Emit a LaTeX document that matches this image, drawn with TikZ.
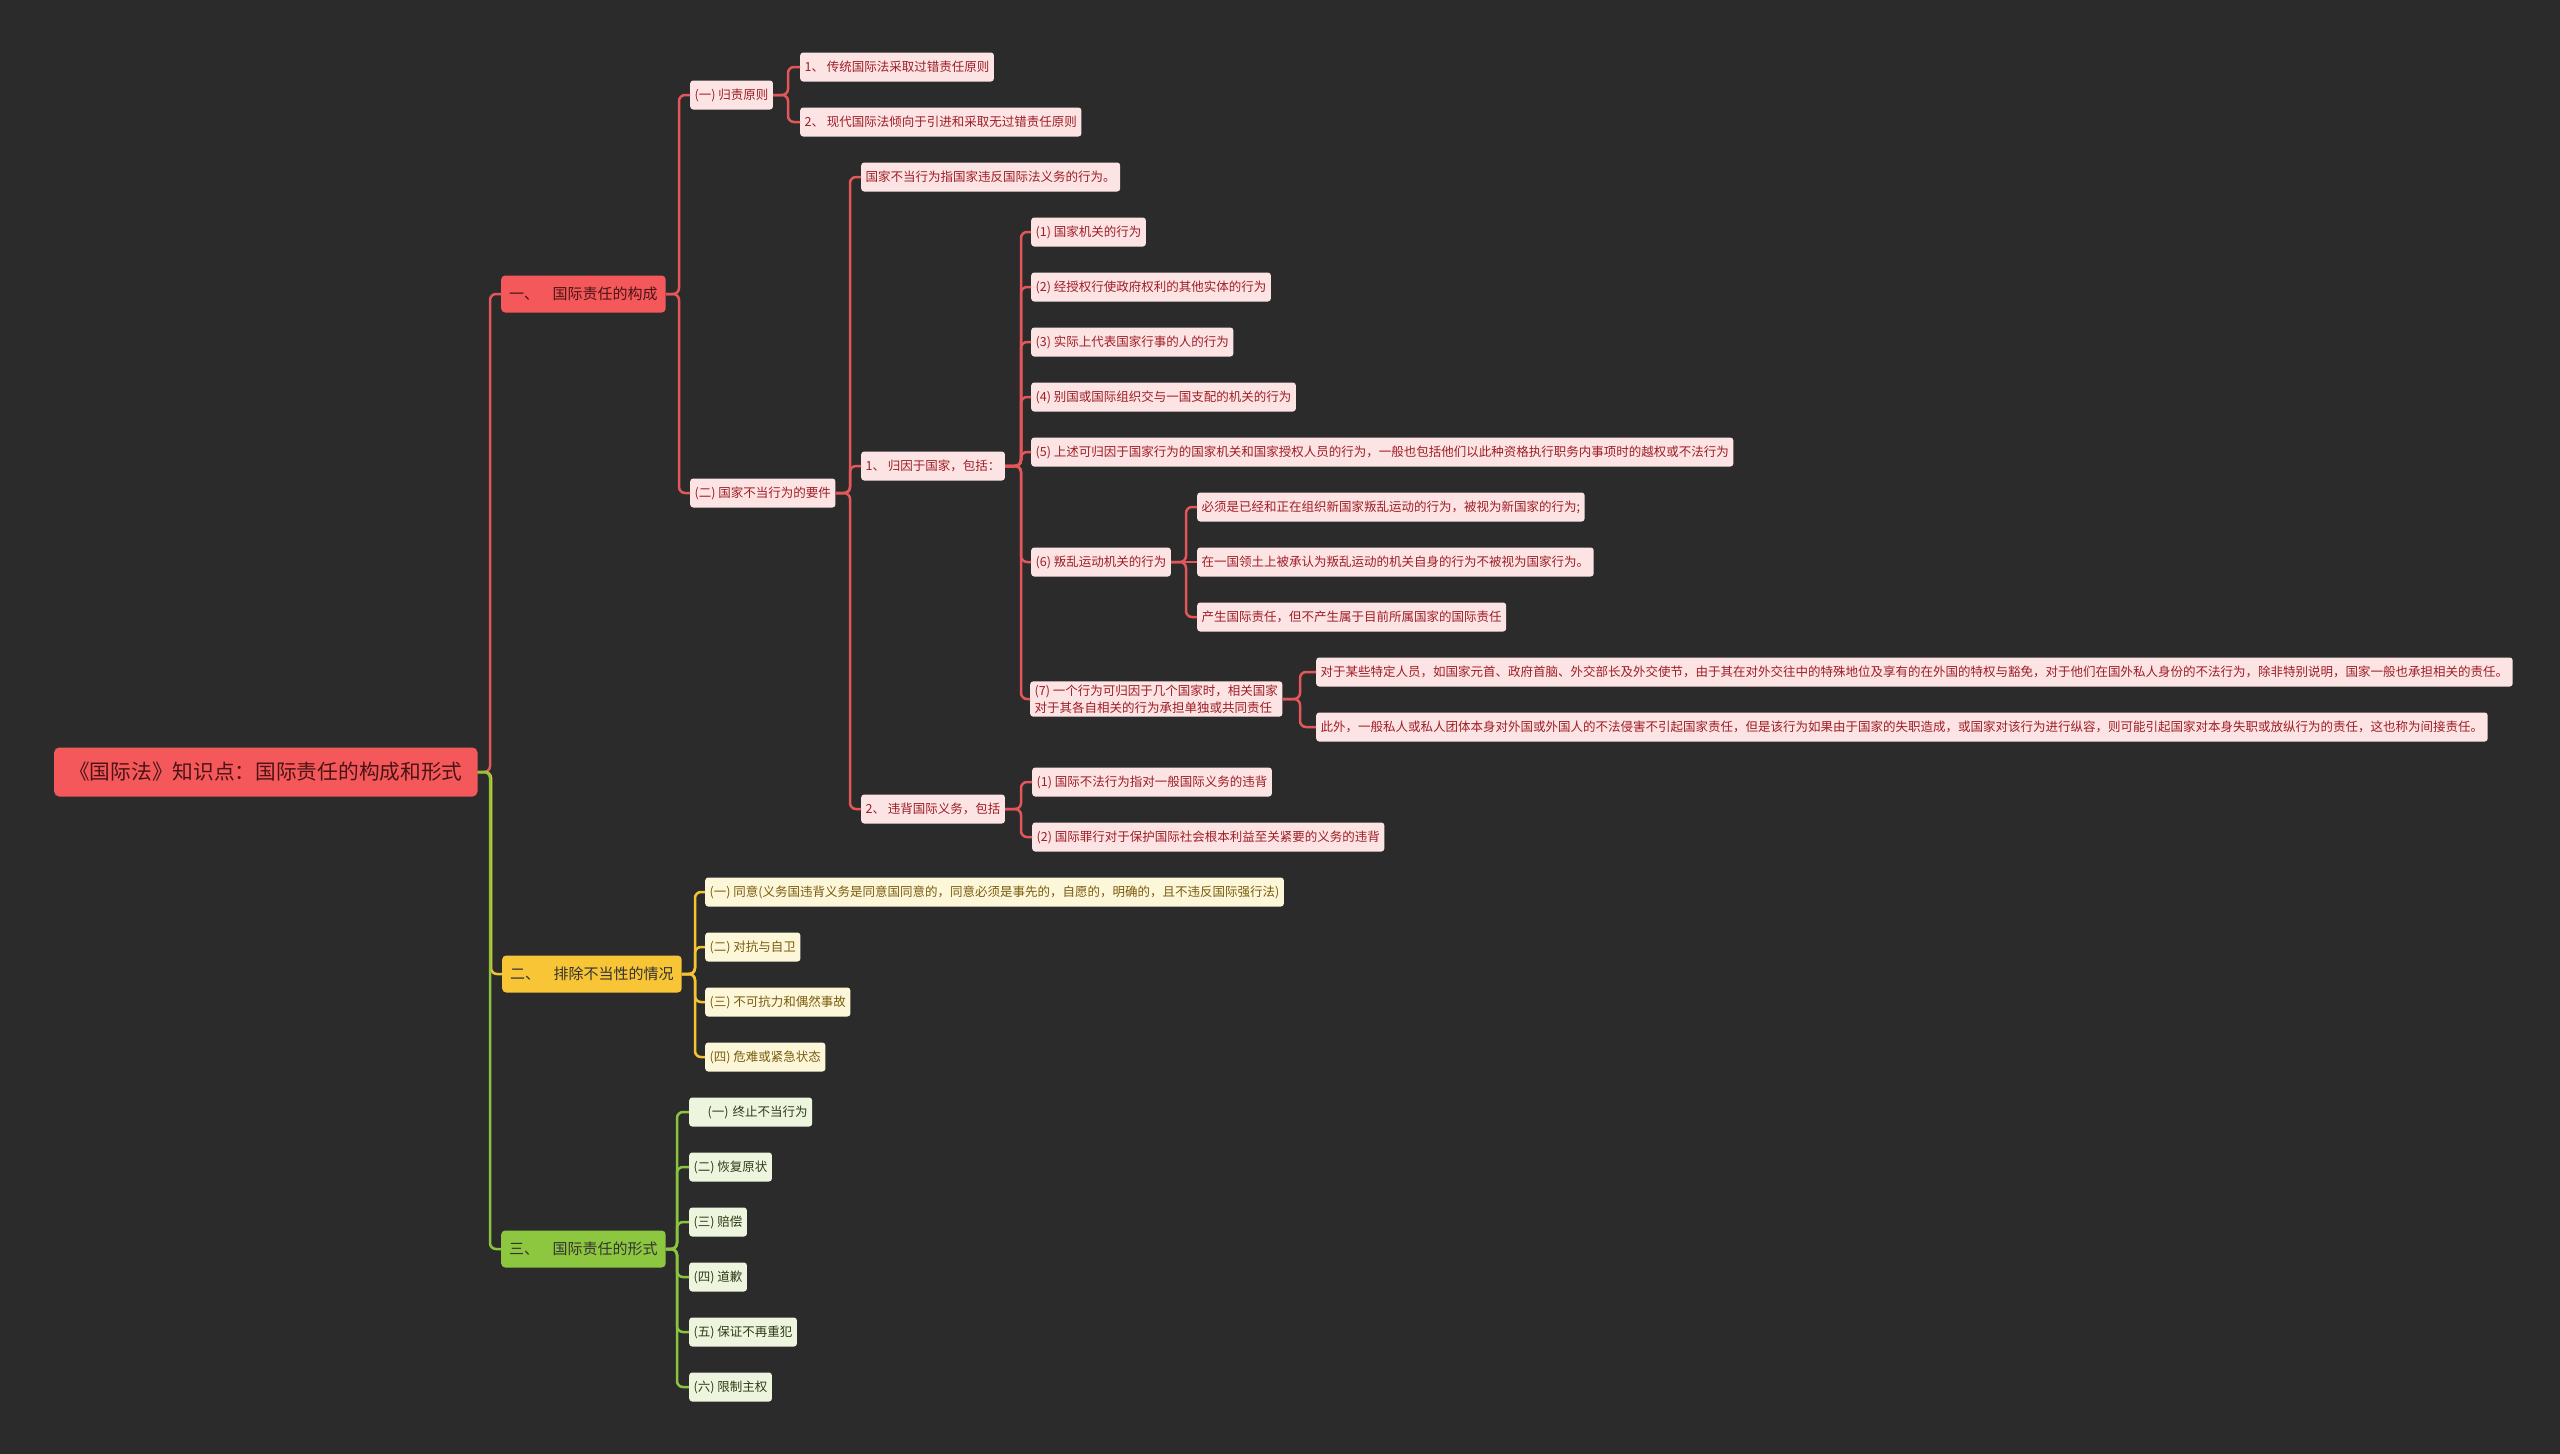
\documentclass[tikz,border=0pt]{standalone}
\usepackage{fontspec}
\setmainfont{Noto Sans CJK SC}
\usetikzlibrary{positioning,calc}
\definecolor{bgcol}{HTML}{2B2B2B}
\definecolor{rootred}{HTML}{F5585B}
\definecolor{mainyel}{HTML}{F8C536}
\definecolor{maingrn}{HTML}{8DC63F}
\definecolor{redline}{HTML}{E3575A}
\definecolor{yelline}{HTML}{F5C232}
\definecolor{grnline}{HTML}{8BC53F}
\definecolor{redfill}{HTML}{FDE4E4}
\definecolor{redtext}{HTML}{9E1D25}
\definecolor{yelfill}{HTML}{FDF7DA}
\definecolor{yeltext}{HTML}{7A5B0C}
\definecolor{grnfill}{HTML}{EEF5DE}
\definecolor{grntext}{HTML}{2E3B17}
\definecolor{darktext}{HTML}{4A1414}

\begin{document}
\begin{tikzpicture}[
    x=1pt, y=-1pt,
    rootbox/.style={rectangle, fill=rootred, text=darktext, anchor=west, minimum height=49pt,
                    inner xsep=15pt, rounded corners=5pt, font=\fontsize{20.7pt}{24pt}\selectfont},
    mainbox/.style={rectangle, anchor=west, minimum height=37pt, inner xsep=8pt,
                    rounded corners=4pt, font=\fontsize{15pt}{18pt}\selectfont},
    leaf/.style={rectangle, anchor=west, minimum height=29pt, inner xsep=4.5pt, align=left,
                 rounded corners=3pt, font=\fontsize{12.5pt}{17pt}\selectfont},
    redleaf/.style={leaf, fill=redfill, text=redtext},
    yelleaf/.style={leaf, fill=yelfill, text=yeltext},
    grnleaf/.style={leaf, fill=grnfill, text=grntext},
    link/.style={line width=2.5pt, rounded corners=6pt},
    redlink/.style={link, draw=redline},
    yellink/.style={link, draw=yelline},
    grnlink/.style={link, draw=grnline}
]
\useasboundingbox (0,0) rectangle (2560,1454);
\fill[bgcol] (0,0) rectangle (2560,1454);

% root and main branches
\node[rootbox] (root) at (54,772) {《国际法》知识点：国际责任的构成和形式};
\node[mainbox, fill=rootred, text=darktext] (one) at (501,294) {一、\hspace{0.9em}国际责任的构成};
\node[mainbox, fill=mainyel, text=black!80] (two) at (502,974) {二、\hspace{0.9em}排除不当性的情况};
\node[mainbox, fill=maingrn, text=black!80] (three) at (501,1249) {三、\hspace{0.9em}国际责任的形式};

% branch one
\node[redleaf] (attr) at (690,95) {(一) 归责原则};
\node[redleaf] (attr1) at (800,67) {1、 传统国际法采取过错责任原则};
\node[redleaf] (attr2) at (800,122) {2、 现代国际法倾向于引进和采取无过错责任原则};
\node[redleaf] (elem) at (690,493) {(二) 国家不当行为的要件};
\node[redleaf] (elem0) at (861,177) {国家不当行为指国家违反国际法义务的行为。};
\node[redleaf] (elem1) at (861,466) {1、 归因于国家，包括：};
\node[redleaf] (elem2) at (861,809) {2、 违背国际义务，包括};
\node[redleaf] (act1) at (1031,232) {(1) 国家机关的行为};
\node[redleaf] (act2) at (1031,287) {(2) 经授权行使政府权利的其他实体的行为};
\node[redleaf] (act3) at (1031,342) {(3) 实际上代表国家行事的人的行为};
\node[redleaf] (act4) at (1031,397) {(4) 别国或国际组织交与一国支配的机关的行为};
\node[redleaf] (act5) at (1031,452) {(5) 上述可归因于国家行为的国家机关和国家授权人员的行为，一般也包括他们以此种资格执行职务内事项时的越权或不法行为};
\node[redleaf] (act6) at (1031,562) {(6) 叛乱运动机关的行为};
\node[redleaf] (act7) at (1030,699) {(7) 一个行为可归因于几个国家时，相关国家\\对于其各自相关的行为承担单独或共同责任};
\node[redleaf] (rebel1) at (1197,507) {必须是已经和正在组织新国家叛乱运动的行为，被视为新国家的行为;};
\node[redleaf] (rebel2) at (1197,562) {在一国领土上被承认为叛乱运动的机关自身的行为不被视为国家行为。};
\node[redleaf] (rebel3) at (1197,617) {产生国际责任，但不产生属于目前所属国家的国际责任};
\node[redleaf] (multi1) at (1316,672) {对于某些特定人员，如国家元首、政府首脑、外交部长及外交使节，由于其在对外交往中的特殊地位及享有的在外国的特权与豁免，对于他们在国外私人身份的不法行为，除非特别说明，国家一般也承担相关的责任。};
\node[redleaf] (multi2) at (1316,727) {此外，一般私人或私人团体本身对外国或外国人的不法侵害不引起国家责任，但是该行为如果由于国家的失职造成，或国家对该行为进行纵容，则可能引起国家对本身失职或放纵行为的责任，这也称为间接责任。};
\node[redleaf] (duty1) at (1032,782) {(1) 国际不法行为指对一般国际义务的违背};
\node[redleaf] (duty2) at (1032,837) {(2) 国际罪行对于保护国际社会根本利益至关紧要的义务的违背};

% branch two
\node[yelleaf] (excl1) at (705,892) {(一) 同意(义务国违背义务是同意国同意的，同意必须是事先的，自愿的，明确的，且不违反国际强行法)};
\node[yelleaf] (excl2) at (705,947) {(二) 对抗与自卫};
\node[yelleaf] (excl3) at (705,1002) {(三) 不可抗力和偶然事故};
\node[yelleaf] (excl4) at (705,1057) {(四) 危难或紧急状态};

% branch three
\node[grnleaf, text width=114pt, align=right] (form1) at (689,1112) {(一) 终止不当行为};
\node[grnleaf] (form2) at (689,1167) {(二) 恢复原状};
\node[grnleaf] (form3) at (689,1222) {(三) 赔偿};
\node[grnleaf] (form4) at (689,1277) {(四) 道歉};
\node[grnleaf] (form5) at (689,1332) {(五) 保证不再重犯};
\node[grnleaf] (form6) at (689,1387) {(六) 限制主权};

% connectors
\draw[redlink] (root.east) -| ([xshift=-11pt]one.west) -- (one.west);
\draw[yellink] (root.east) -| ([xshift=-11pt]two.west) -- (two.west);
\draw[grnlink] (root.east) -| ([xshift=-11pt]three.west) -- (three.west);

\draw[redlink] (one.east) -| ([xshift=-11pt]attr.west) -- (attr.west);
\draw[redlink] (one.east) -| ([xshift=-11pt]elem.west) -- (elem.west);
\draw[redlink] (attr.east) -| ([xshift=-12pt]attr1.west) -- (attr1.west);
\draw[redlink] (attr.east) -| ([xshift=-12pt]attr2.west) -- (attr2.west);
\draw[redlink] (elem.east) -| ([xshift=-11pt]elem0.west) -- (elem0.west);
\draw[redlink] (elem.east) -| ([xshift=-11pt]elem1.west) -- (elem1.west);
\draw[redlink] (elem.east) -| ([xshift=-11pt]elem2.west) -- (elem2.west);
\draw[redlink] (elem1.east) -| ([xshift=-10pt]act1.west) -- (act1.west);
\draw[redlink] (elem1.east) -| ([xshift=-10pt]act2.west) -- (act2.west);
\draw[redlink] (elem1.east) -| ([xshift=-10pt]act3.west) -- (act3.west);
\draw[redlink] (elem1.east) -| ([xshift=-10pt]act4.west) -- (act4.west);
\draw[redlink] (elem1.east) -| ([xshift=-10pt]act5.west) -- (act5.west);
\draw[redlink] (elem1.east) -| ([xshift=-10pt]act6.west) -- (act6.west);
\draw[redlink] (elem1.east) -| ([xshift=-9pt]act7.west) -- (act7.west);
\draw[redlink] (act6.east) -| ([xshift=-11pt]rebel1.west) -- (rebel1.west);
\draw[redlink] (act6.east) -- (rebel2.west);
\draw[redlink] (act6.east) -| ([xshift=-11pt]rebel3.west) -- (rebel3.west);
\draw[redlink] (act7.east) -| ([xshift=-16pt]multi1.west) -- (multi1.west);
\draw[redlink] (act7.east) -| ([xshift=-16pt]multi2.west) -- (multi2.west);
\draw[redlink] (elem2.east) -| ([xshift=-11pt]duty1.west) -- (duty1.west);
\draw[redlink] (elem2.east) -| ([xshift=-11pt]duty2.west) -- (duty2.west);

\draw[yellink] (two.east) -| ([xshift=-10pt]excl1.west) -- (excl1.west);
\draw[yellink] (two.east) -| ([xshift=-10pt]excl2.west) -- (excl2.west);
\draw[yellink] (two.east) -| ([xshift=-10pt]excl3.west) -- (excl3.west);
\draw[yellink] (two.east) -| ([xshift=-10pt]excl4.west) -- (excl4.west);

\draw[grnlink] (three.east) -| ([xshift=-12pt]form1.west) -- (form1.west);
\draw[grnlink] (three.east) -| ([xshift=-12pt]form2.west) -- (form2.west);
\draw[grnlink] (three.east) -| ([xshift=-12pt]form3.west) -- (form3.west);
\draw[grnlink] (three.east) -| ([xshift=-12pt]form4.west) -- (form4.west);
\draw[grnlink] (three.east) -| ([xshift=-12pt]form5.west) -- (form5.west);
\draw[grnlink] (three.east) -| ([xshift=-12pt]form6.west) -- (form6.west);
\end{tikzpicture}
\end{document}
